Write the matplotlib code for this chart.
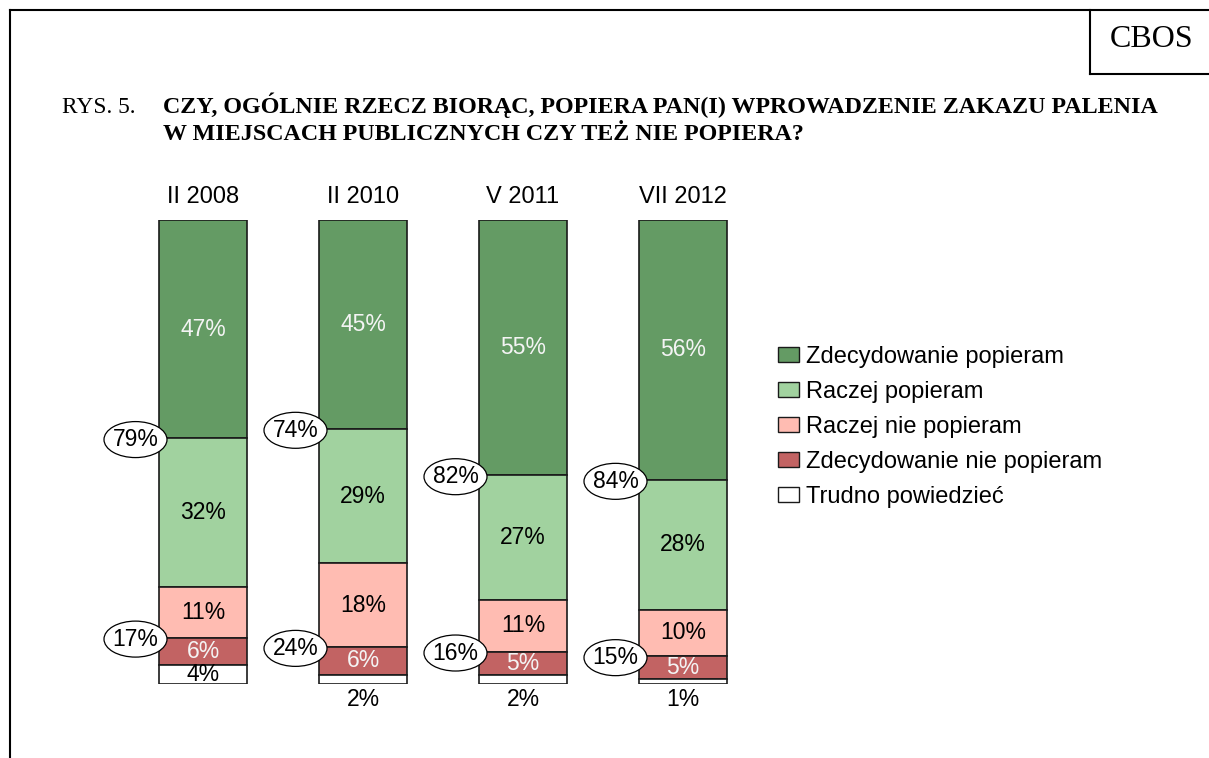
import matplotlib
matplotlib.use("Agg")
import matplotlib.pyplot as plt
from matplotlib.patches import Patch, Ellipse
from matplotlib.lines import Line2D

W, H = 1209, 758
categories = ["II 2008", "II 2010", "V 2011", "VII 2012"]
series_names = ["Zdecydowanie popieram", "Raczej popieram", "Raczej nie popieram",
                "Zdecydowanie nie popieram", "Trudno powiedzieć"]
zdecydowanie_popieram = [47, 45, 55, 56]
raczej_popieram = [32, 29, 27, 28]
raczej_nie_popieram = [11, 18, 11, 10]
zdecydowanie_nie_popieram = [6, 6, 5, 5]
trudno_powiedziec = [4, 2, 2, 1]
support_total = [79, 74, 82, 84]
oppose_total = [17, 24, 16, 15]

colors = ["#649B64", "#A1D29F", "#FFBCB2", "#C26363", "#FFFFFF"]
text_colors = ["#F4F4F4", "black", "black", "#F4F4F4", "black"]

plt.rcParams['font.family'] = ['Liberation Sans', 'DejaVu Sans']
fig = plt.figure(figsize=(W / 100, H / 100), dpi=100)
ax_w_px, ax_h_px = 640, 464
ax = fig.add_axes([123 / W, (H - 684) / H, ax_w_px / W, ax_h_px / H])
ax.set_xlim(-0.5, 3.5)
ax.set_ylim(0, 100)
ax.axis('off')
px_x = 4.0 / ax_w_px      # data units per pixel (x)
px_y = 100.0 / ax_h_px    # data units per pixel (y)

series = [zdecydowanie_popieram, raczej_popieram, raczej_nie_popieram,
          zdecydowanie_nie_popieram, trudno_powiedziec]
n = len(categories)
xs = list(range(n))
tops = [100.0] * n
bw = 0.55
for s_idx, vals in enumerate(series):
    bottoms = [tops[i] - vals[i] for i in range(n)]
    ax.bar(xs, vals, bottom=bottoms, width=bw, color=colors[s_idx],
           edgecolor='#1a1a1a', linewidth=1.2, zorder=2)
    for i in range(n):
        v = vals[i]
        if v >= 3:
            ax.text(i, bottoms[i] + v / 2, f"{v}%", ha='center', va='center',
                    fontsize=16.5, color=text_colors[s_idx], zorder=4)
        else:
            ax.annotate(f"{v}%", xy=(i, 0), xytext=(0, -3), textcoords='offset points',
                        ha='center', va='top', fontsize=16.5, color='black', zorder=4)
    tops = bottoms

ell_w, ell_h, ell_off = 63 * px_x, 36 * px_y, 23.5 * px_x
for i in range(n):
    ax.annotate(categories[i], xy=(i, 100), xytext=(0, 12.5), textcoords='offset points',
                ha='center', va='baseline', fontsize=17, color='black')
    y_sup = 100 - zdecydowanie_popieram[i]
    y_opp = trudno_powiedziec[i] + zdecydowanie_nie_popieram[i]
    for yv, lab in ((y_sup, support_total[i]), (y_opp, oppose_total[i])):
        cx = i - bw / 2 - ell_off
        ax.add_patch(Ellipse((cx, yv - 1.5 * px_y), ell_w, ell_h, facecolor='white',
                             edgecolor='black', linewidth=0.9, zorder=5, clip_on=False))
        ax.text(cx, yv - 1.5 * px_y, f"{lab}%", ha='center', va='center',
                fontsize=16.5, color='black', zorder=6, clip_on=False)

handles = [Patch(facecolor=c, edgecolor='#1a1a1a', linewidth=1.0) for c in colors]
fig.legend(handles, series_names, loc='upper left', bbox_to_anchor=(778 / W, 1 - 346 / H),
           frameon=False, fontsize=17, handlelength=0.9, handleheight=0.6,
           handletextpad=0.3, labelspacing=0.55, borderpad=0, borderaxespad=0)

def fline(x0, y0, x1, y1, lw=1.5):
    fig.add_artist(Line2D([x0 / W, x1 / W], [1 - y0 / H, 1 - y1 / H],
                          transform=fig.transFigure, color='black', linewidth=lw))

fline(10, 10, 1209, 10)
fline(10, 10, 10, 758)
fline(1090, 10, 1090, 74)
fline(1090, 74, 1209, 74)

serif = ['Liberation Serif', 'DejaVu Serif']
fig.text(1152 / W, 1 - 47 / H, "CBOS", ha='center', va='baseline', fontsize=23,
         family=serif)
fig.text(62 / W, 1 - 113 / H, "RYS. 5.", ha='left', va='baseline', fontsize=16.8,
         family=serif)
fig.text(163 / W, 1 - 113 / H,
         "CZY, OGÓLNIE RZECZ BIORĄC, POPIERA PAN(I) WPROWADZENIE ZAKAZU PALENIA",
         ha='left', va='baseline', fontsize=17.3, fontweight='bold', family=serif)
fig.text(163 / W, 1 - 140 / H,
         "W MIEJSCACH PUBLICZNYCH CZY TEŻ NIE POPIERA?",
         ha='left', va='baseline', fontsize=17.3, fontweight='bold', family=serif)

fig.savefig("out.png", dpi=100)
